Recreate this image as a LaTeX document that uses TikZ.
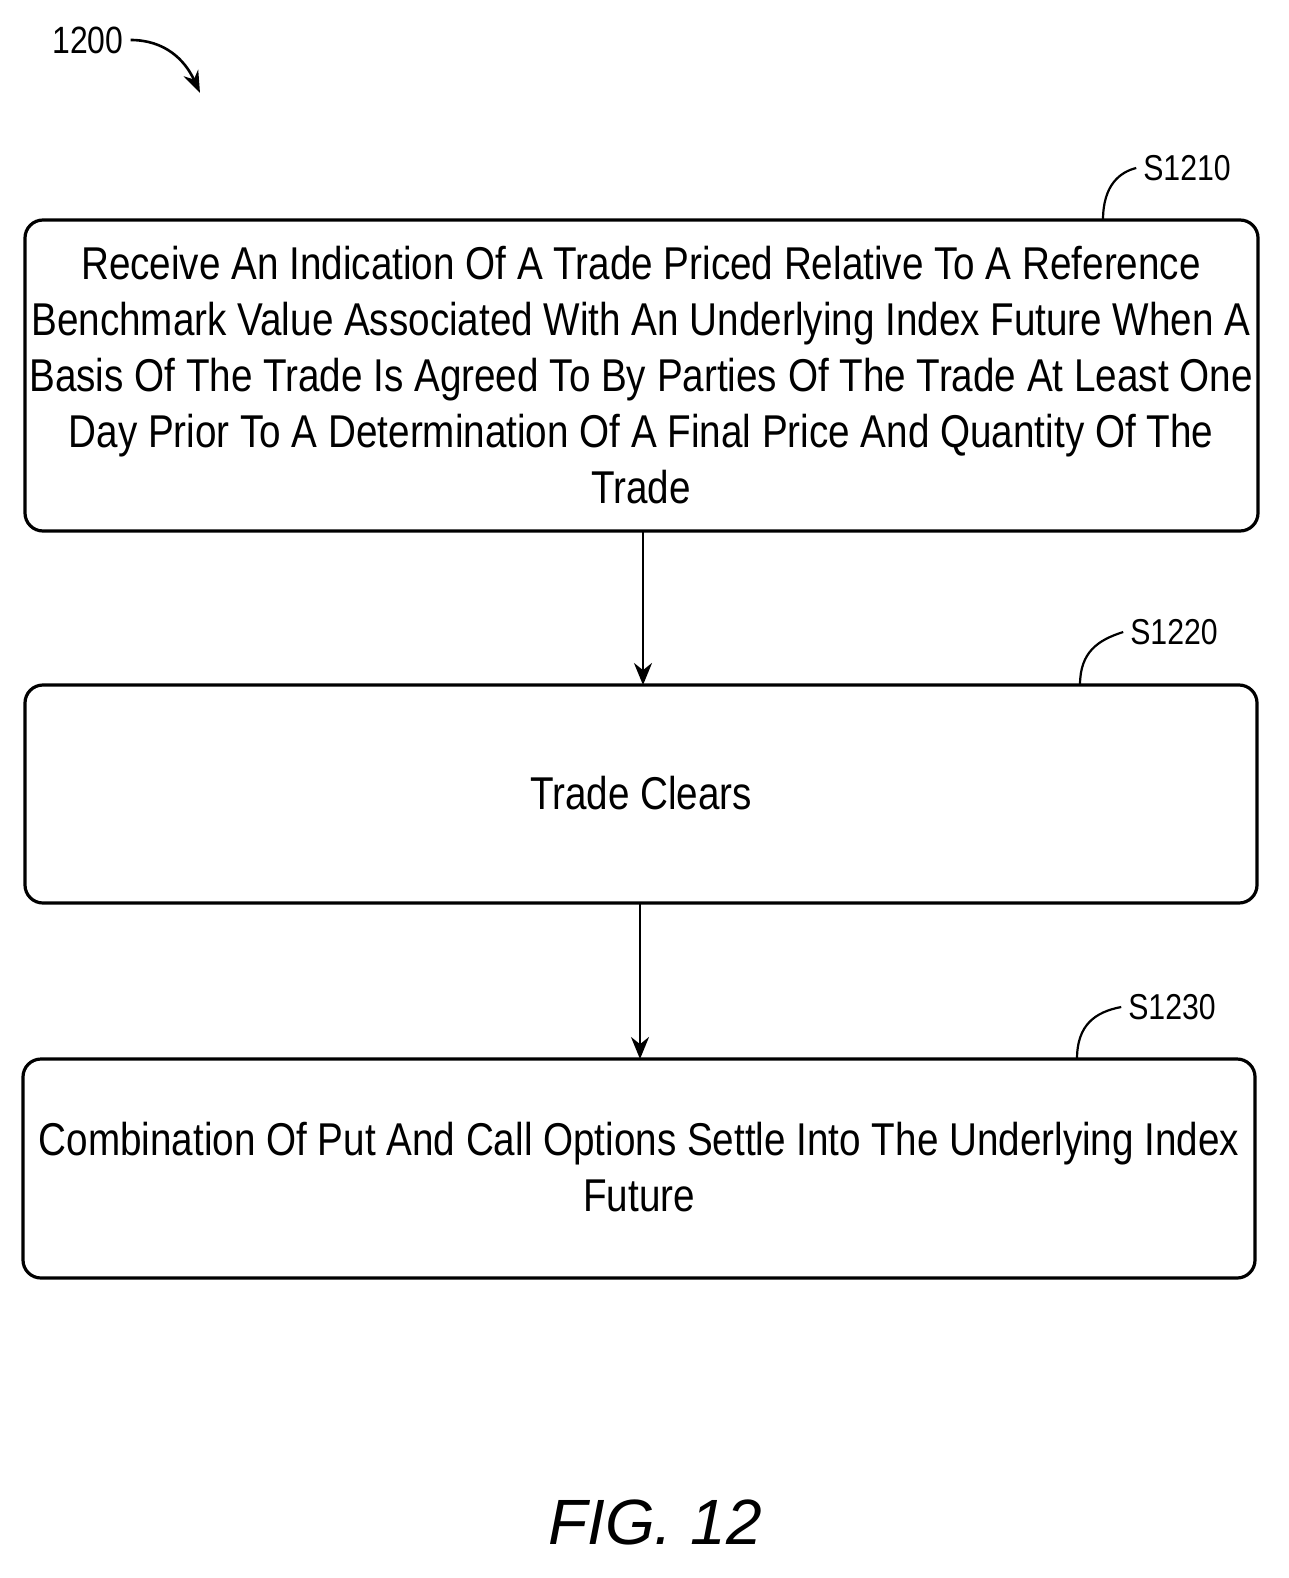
\documentclass[tikz,border=0pt]{standalone}
\usepackage{fontspec}
\setmainfont{Liberation Sans}[FakeStretch=0.84]
\newfontfamily\figfont{Liberation Sans}
\usetikzlibrary{arrows.meta}
\begin{document}
\begin{tikzpicture}[x=0.5pt,y=-0.5pt,
  box/.style={draw,line width=1.6pt,rounded corners=9pt,align=center,font=\fontsize{23}{28}\selectfont,inner sep=0pt},
  lbl/.style={font=\fontsize{18}{20}\selectfont,anchor=center},
  arr/.style={-{Stealth[length=11pt,width=9pt]},line width=1.3pt},
  lead/.style={line width=1.1pt}]
\useasboundingbox (0,0) rectangle (1289,1578);
\draw[box] (25,220) rectangle (1258,531);
\node[box,draw=none] (b1) at (641,375) {Receive An Indication Of A Trade Priced Relative To A Reference\\Benchmark Value Associated With An Underlying Index Future When A\\Basis Of The Trade Is Agreed To By Parties Of The Trade At Least One\\Day Prior To A Determination Of A Final Price And Quantity Of The\\Trade};
\coordinate (b1s) at (643,531);
\draw[box] (25,685) rectangle (1257,903);
\node[box,draw=none] (b2) at (641,793) {Trade Clears};
\coordinate (b2n) at (643,685);
\coordinate (b2s) at (640,903);
\draw[box] (23,1059) rectangle (1255,1278);
\node[box,draw=none] (b3) at (639,1167) {Combination Of Put And Call Options Settle Into The Underlying Index\\Future};
\coordinate (b3n) at (640,1059);
\draw[arr] (b1s) -- (b2n);
\draw[arr] (b2s) -- (b3n);
\node[lbl] (s1) at (1187,168) {S1210};
\node[lbl] (s2) at (1174,632) {S1220};
\node[lbl] (s3) at (1172,1007) {S1230};
\coordinate (l1) at (1103,220); \coordinate (l2) at (1080,685); \coordinate (l3) at (1077,1059);
\draw[lead] (l1) .. controls (1103,185) and (1120,172) .. (s1.west);
\draw[lead] (l2) .. controls (1080,652) and (1098,640) .. (s2.west);
\draw[lead] (l3) .. controls (1077,1025) and (1095,1012) .. (s3.west);
\node[lbl,font=\fontsize{19}{20}\selectfont] (n) at (88,40) {1200};
\draw[-{Stealth[length=11pt,width=8pt]},line width=1.3pt] (n.east) .. controls (165,40) and (185,60) .. (200,93);
\node[font=\figfont\itshape\fontsize{32}{36}\selectfont] (fig) at (655,1522) {FIG. 12};
\end{tikzpicture}
\end{document}
